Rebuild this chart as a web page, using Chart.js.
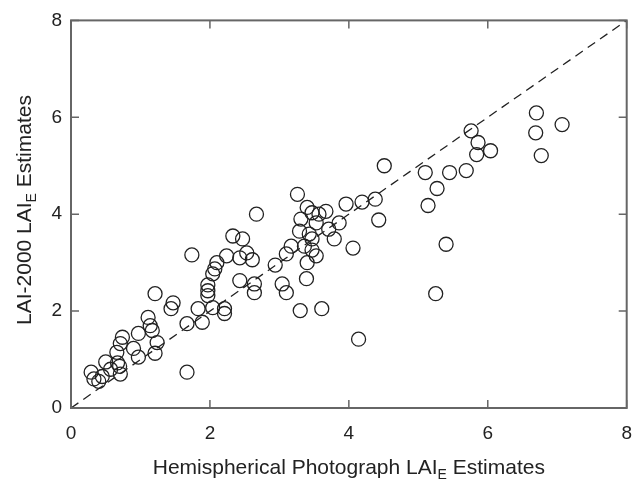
<!DOCTYPE html>
<html>
<head>
<meta charset="utf-8">
<script src="https://cdn.jsdelivr.net/npm/chart.js@4.4.0/dist/chart.umd.min.js"></script>
<style>
  html, body { margin: 0; padding: 0; background: #fff; }
</style>
</head>
<body>
<canvas id="laiChart" width="635" height="480"></canvas>
<script>
// Hemispherical photograph LAI_E (x) vs LAI-2000 LAI_E (y)
const hemiLAI = [
  0.29, 0.33, 0.40, 0.45, 0.50, 0.57, 0.66, 0.67, 0.70, 0.71,
  0.71, 0.74, 0.90, 0.97, 0.97, 1.11, 1.14, 1.17, 1.21, 1.24,
  1.21, 1.44, 1.47, 1.67, 1.67, 1.74, 1.83, 1.89, 1.97, 1.97,
  1.97, 2.04, 2.04, 2.07, 2.10, 2.21, 2.21, 2.24, 2.33, 2.43,
  2.43, 2.47, 2.53, 2.61, 2.64, 2.64, 2.67, 2.94, 3.04, 3.10,
  3.10, 3.17, 3.26, 3.29, 3.30, 3.31, 3.36, 3.39, 3.40, 3.40,
  3.43, 3.47, 3.47, 3.47, 3.53, 3.53, 3.57, 3.61, 3.67, 3.71,
  3.79, 3.86, 3.96, 4.06, 4.14, 4.19, 4.38, 4.43, 4.51, 5.10,
  5.14, 5.25, 5.27, 5.40, 5.45, 5.69, 5.76, 5.84, 5.86, 6.04,
  6.69, 6.70, 6.77, 7.07
];
const lai2000 = [
  0.74, 0.60, 0.55, 0.65, 0.95, 0.80, 1.15, 0.93, 0.86, 0.70,
  1.33, 1.46, 1.23, 1.05, 1.54, 1.87, 1.70, 1.60, 1.13, 1.35,
  2.36, 2.05, 2.17, 0.74, 1.74, 3.16, 2.05, 1.77, 2.32, 2.42,
  2.54, 2.07, 2.77, 2.87, 3.00, 1.95, 2.05, 3.14, 3.55, 2.63,
  3.10, 3.49, 3.20, 3.06, 2.38, 2.56, 4.00, 2.95, 2.56, 2.38,
  3.18, 3.34, 4.41, 3.65, 2.01, 3.90, 3.34, 2.67, 3.00, 4.14,
  3.59, 3.26, 3.49, 4.03, 3.14, 3.82, 4.00, 2.05, 4.06, 3.69,
  3.49, 3.82, 4.21, 3.30, 1.42, 4.25, 4.31, 3.88, 5.00, 4.86,
  4.18, 2.36, 4.53, 3.38, 4.86, 4.90, 5.72, 5.23, 5.48, 5.31,
  5.68, 6.09, 5.21, 5.85
];
const oneToOne = [0, 8];
const axisTicks = [0, 2, 4, 6, 8];
const xTitle = ['Hemispherical Photograph LAI', 'E', ' Estimates'];
const yTitle = ['LAI-2000 LAI', 'E', ' Estimates'];

const ink = '#222';
const axisGrey = '#666';
const family = '"Liberation Sans", Arial, sans-serif';

// title with a subscript, centred on cx, baseline at cy
function drawSubTitle(ctx, parts, cx, cy) {
  const big = '21px ' + family, small = '14px ' + family;
  ctx.font = big;
  const w0 = ctx.measureText(parts[0]).width;
  const w2 = ctx.measureText(parts[2]).width;
  ctx.font = small;
  const w1 = ctx.measureText(parts[1]).width;
  let x = cx - (w0 + w1 + w2) / 2;
  ctx.textBaseline = 'alphabetic';
  ctx.textAlign = 'left';
  ctx.font = big;
  ctx.fillText(parts[0], x, cy);
  x += w0;
  ctx.font = small;
  ctx.fillText(parts[1], x, cy + 5);
  x += w1;
  ctx.font = big;
  ctx.fillText(parts[2], x, cy);
}

const framePlugin = {
  id: 'frame',
  afterDraw(chart) {
    const { ctx, chartArea: a, scales: { x, y } } = chart;
    ctx.save();
    ctx.strokeStyle = axisGrey;
    ctx.lineWidth = 2;
    ctx.strokeRect(a.left, a.top, a.right - a.left, a.bottom - a.top);
    ctx.lineWidth = 1.5;
    ctx.beginPath();
    axisTicks.forEach(v => {
      const px = x.getPixelForValue(v), py = y.getPixelForValue(v);
      ctx.moveTo(px, a.bottom); ctx.lineTo(px, a.bottom - 8);
      ctx.moveTo(px, a.top); ctx.lineTo(px, a.top + 8);
      ctx.moveTo(a.left, py); ctx.lineTo(a.left + 8, py);
      ctx.moveTo(a.right, py); ctx.lineTo(a.right - 8, py);
    });
    ctx.stroke();

    ctx.fillStyle = ink;
    // x tick labels drawn here so the last one may run to the canvas edge
    ctx.font = '19px ' + family;
    ctx.textAlign = 'center';
    ctx.textBaseline = 'alphabetic';
    axisTicks.forEach(v => ctx.fillText(String(v), x.getPixelForValue(v), a.bottom + 31));

    drawSubTitle(ctx, xTitle, (a.left + a.right) / 2, 474);
    ctx.save();
    ctx.translate(31, 210);
    ctx.rotate(-Math.PI / 2);
    drawSubTitle(ctx, yTitle, 0, 0);
    ctx.restore();
    ctx.restore();
  }
};

const tickFont = { family: family, size: 19 };

new Chart(document.getElementById('laiChart').getContext('2d'), {
  data: {
    datasets: [
      {
        type: 'line',
        data: oneToOne.map(v => ({ x: v, y: v })),
        borderColor: ink,
        borderWidth: 1.3,
        borderDash: [9, 6],
        pointRadius: 0,
        fill: false
      },
      {
        type: 'scatter',
        data: hemiLAI.map((v, i) => ({ x: v, y: lai2000[i] })),
        pointStyle: 'circle',
        pointRadius: 7,
        borderWidth: 1.3,
        borderColor: ink,
        backgroundColor: 'rgba(0,0,0,0)'
      }
    ]
  },
  options: {
    responsive: false,
    animation: false,
    layout: { padding: { top: 18, right: 5, left: 0, bottom: 0 } },
    plugins: { legend: { display: false }, tooltip: { enabled: false } },
    scales: {
      x: {
        type: 'linear',
        min: 0, max: 8,
        ticks: { stepSize: 2, display: false },
        grid: { display: false, drawTicks: false },
        border: { display: false },
        afterFit(s) { s.height = 72; }
      },
      y: {
        type: 'linear',
        min: 0, max: 8,
        ticks: { stepSize: 2, padding: 9, color: ink, font: tickFont },
        grid: { display: false, drawTicks: false },
        border: { display: false },
        afterFit(s) { s.width = 71; }
      }
    }
  },
  plugins: [framePlugin]
});
</script>
</body>
</html>
